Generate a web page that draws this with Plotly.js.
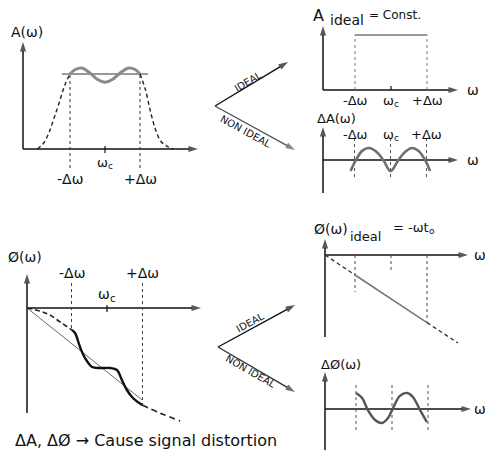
<!DOCTYPE html>
<html><head><meta charset="utf-8">
<script src="https://cdn.plot.ly/plotly-3.0.1.min.js"></script>
<style>html,body{margin:0;padding:0;background:#fff}</style>
</head><body><div id="chart" style="width:485px;height:457px"></div>
<script>
// ---------------- data (ω measured from ωc in units of Δω) ----------------
const tickPos = [-1, 0, 1];
const tickLabels = ['-Δω', 'ω', '+Δω'];
const tickSubs = ['', 'c', ''];

// A(ω) non-ideal amplitude: ripple in the band and skirts outside
const ampRippleX = [-1.0, -0.85, -0.66, -0.45, -0.22, 0, 0.22, 0.45, 0.68, 0.86, 1.0];
const ampRippleY = [1.0, 1.06, 1.08, 1.02, 0.93, 0.89, 0.93, 1.02, 1.08, 1.06, 1.0];
const ampSkirtLX = [-1.93, -1.75, -1.6, -1.45, -1.3, -1.15, -1.0];
const ampSkirtLY = [0, 0.08, 0.22, 0.42, 0.63, 0.85, 1.0];
const ampSkirtRX = [1.0, 1.15, 1.3, 1.45, 1.6, 1.8, 1.95];
const ampSkirtRY = [1.0, 0.8, 0.5, 0.25, 0.1, 0.03, 0];
const ampFlatX = [-1.23, 1.23];
const ampFlatY = [1, 1];

// A_ideal = const.
const ampIdealX = [-1, 1];
const ampIdealY = [1, 1];

// ΔA(ω)
const dAmpX = [-1.11, -0.94, -0.78, -0.6, -0.4, -0.2, 0, 0.22, 0.42, 0.6, 0.78, 0.94, 1.1];
const dAmpY = [-0.85, 0.1, 0.72, 0.92, 0.65, 0, -0.85, 0, 0.65, 0.92, 0.7, 0.1, -0.85];

// φ(ω) non-ideal phase
const phaseWaveX = [-0.99, -0.9, -0.76, -0.62, -0.42, -0.2, 0.08, 0.28, 0.42, 0.56, 0.73, 0.99];
const phaseWaveY = [-0.55, -0.625, -0.975, -1.25, -1.475, -1.5, -1.5, -1.55, -1.8, -2.05, -2.25, -2.425];
const phaseLeftX = [-2.25, -1.89, -1.61, -1.32, -0.99];
const phaseLeftY = [0, -0.075, -0.175, -0.35, -0.55];
const phaseRightX = [0.99, 1.49, 2.06];
const phaseRightY = [-2.425, -2.625, -2.825];
const phaseLinX = [-2.25, 0.99];
const phaseLinY = [0, -2.3];

// φ(ω)_ideal = -ω t0
const phiIdealX = [-1.83, -1, 1, 1.86];
const phiIdealY = [0, -0.5, -1.69, -2.2];

// Δφ(ω)
const dPhiX = [-1.0, -0.83, -0.67, -0.47, -0.28, -0.11, 0.03, 0.22, 0.42, 0.58, 0.78, 0.97];
const dPhiY = [1.07, 0.73, -0.07, -0.73, -0.93, -0.6, 0.07, 0.87, 1.07, 0.8, -0.07, -0.87];

// ---------------- layout helpers (pixel geometry) ----------------
const W = 485, H = 457;
const FONT = 'DejaVu Sans, Liberation Sans, sans-serif';
const P = {
  A: {id: '',  ox: 105,   sx: 35,   oy: 149, sy: 75, L: 5,   R: 205, T: 22,  B: 192},
  B: {id: '2', ox: 391,   sx: 36,   oy: 90,  sy: 55, L: 300, R: 485, T: 2,   B: 107},
  C: {id: '3', ox: 390.5, sx: 36,   oy: 160, sy: 13, L: 300, R: 485, T: 108, B: 200},
  D: {id: '4', ox: 107,   sx: 35.5, oy: 308, sy: 40, L: 0,   R: 210, T: 245, B: 428},
  E: {id: '5', ox: 391,   sx: 36,   oy: 255, sy: 40, L: 300, R: 485, T: 212, B: 352},
  F: {id: '6', ox: 392,   sx: 36,   oy: 409, sy: 15, L: 300, R: 485, T: 354, B: 457},
  G: {id: '7', ox: 0,     sx: 1,    oy: 0,   sy: -1, L: 0,   R: 485, T: 0,   B: 457}  // full-page overlay for branch arrows
};
const dx = (p, px) => (px - p.ox) / p.sx;
const dy = (p, py) => (p.oy - py) / p.sy;

const layout = {
  width: W, height: H, margin: {l: 0, r: 0, t: 0, b: 0},
  paper_bgcolor: '#fff', plot_bgcolor: 'rgba(0,0,0,0)', showlegend: false,
  font: {family: FONT, color: '#111'},
  annotations: []
};
Object.values(P).forEach(p => {
  layout['xaxis' + p.id] = {domain: [p.L / W, p.R / W], range: [dx(p, p.L), dx(p, p.R)],
    visible: false, fixedrange: true, anchor: 'y' + p.id};
  layout['yaxis' + p.id] = {domain: [1 - p.B / H, 1 - p.T / H], range: [dy(p, p.B), dy(p, p.T)],
    visible: false, fixedrange: true, anchor: 'x' + p.id};
});

const traces = [];
function line(p, xs, ys, color, width, dash, shape) {
  traces.push({type: 'scatter', mode: 'lines', x: xs, y: ys,
    xaxis: 'x' + p.id, yaxis: 'y' + p.id, hoverinfo: 'skip', cliponaxis: false,
    line: {color: color, width: width, dash: dash || 'solid', shape: shape || 'spline', smoothing: 1}});
}
function arrow(p, x0, y0, x1, y1, color, width) {
  traces.push({type: 'scatter', mode: 'lines+markers', x: [x0, x1], y: [y0, y1],
    xaxis: 'x' + p.id, yaxis: 'y' + p.id, hoverinfo: 'skip', cliponaxis: false,
    line: {color: color || '#111', width: width || 1.5},
    marker: {symbol: 'arrow', angleref: 'previous', size: [0, 10], color: color || '#111',
      line: {width: 0}}});
}
function axes(p, x0px, x1px, yTopPx, yBotPx) {
  arrow(p, dx(p, x0px), 0, dx(p, x1px), 0);
  arrow(p, dx(p, x0px), dy(p, yBotPx), dx(p, x0px), dy(p, yTopPx));
}
function text(p, x, y, t, size, extra) {
  layout.annotations.push(Object.assign({xref: 'x' + p.id, yref: 'y' + p.id, x: x, y: y, text: t,
    xanchor: 'center', yanchor: 'middle', borderpad: 0, borderwidth: 0,
    showarrow: false, font: {size: size, family: FONT, color: '#111'}}, extra || {}));
}
// base text with a separate lowered subscript (drawn as its own annotation)
function subText(p, x, y, base, sub, size, split) {
  text(p, x, y, base, size, {xanchor: 'right', xshift: split});
  text(p, x, y, sub, Math.round(size * 0.7), {xanchor: 'left', xshift: split, yshift: -4});
}
function vguides(p, which, y0px, y1px, color) {
  which.forEach((i, k) => {
    const t = tickPos[i];
    const a = Array.isArray(y0px) ? y0px[k] : y0px, b = Array.isArray(y1px) ? y1px[k] : y1px;
    line(p, [t, t], [dy(p, a), dy(p, b)], color || '#555', 1, '3px,3px', 'linear');
  });
}
function tickLbls(p, which, ypx, size) {
  which.forEach(i => {
    if (tickSubs[i]) subText(p, tickPos[i], dy(p, ypx), tickLabels[i], tickSubs[i], size, 3);
    else text(p, tickPos[i], dy(p, ypx), tickLabels[i], size);
  });
}

// ---------------- Panel A : A(ω) ----------------
const A = P.A;
axes(A, 23, 198, 42, 149);
line(A, ampFlatX, ampFlatY, '#777', 1.5, 'solid', 'linear');
line(A, ampRippleX, ampRippleY, '#8a8a8a', 3);
line(A, ampSkirtLX, ampSkirtLY, '#222', 1.4, '4px,3px');
line(A, ampSkirtRX, ampSkirtRY, '#222', 1.4, '4px,3px');
vguides(A, [0, 2], 75, 168, '#333');
line(A, [0, 0], [dy(A, 146), dy(A, 153)], '#111', 1.2, 'solid', 'linear');
text(A, dx(A, 27), dy(A, 32), 'A(ω)', 14);
tickLbls(A, [0, 2], 179, 14);
tickLbls(A, [1], 162, 13);

// ---------------- Panel B : A_ideal ----------------
const Bp = P.B;
axes(Bp, 323, 458, 26, 90);
line(Bp, ampIdealX, ampIdealY, '#777', 1.5, 'solid', 'linear');
vguides(Bp, [0, 2], 90, 35, '#777');
line(Bp, [0, 0], [dy(Bp, 86), dy(Bp, 90)], '#111', 1.2, 'solid', 'linear');
tickLbls(Bp, [0, 1, 2], 100, 13);
text(Bp, dx(Bp, 473), 0, 'ω', 14);
text(Bp, dx(Bp, 318), dy(Bp, 15), 'A', 16);
text(Bp, dx(Bp, 347), dy(Bp, 20), 'ideal', 14);
text(Bp, dx(Bp, 395), dy(Bp, 15), '= Const.', 12);

// ---------------- Panel C : ΔA(ω) ----------------
const C = P.C;
axes(C, 323, 458, 127, 193);
vguides(C, [0, 1, 2], 138, 180, '#555');
line(C, dAmpX, dAmpY, '#6e6e6e', 2.6);
tickLbls(C, [0, 1, 2], 134, 13);
text(C, dx(C, 336), dy(C, 118), 'ΔA(ω)', 13);
text(C, dx(C, 473), 0, 'ω', 14);

// ---------------- Panel D : φ(ω) ----------------
const D = P.D;
axes(D, 27, 201, 274, 413);
vguides(D, [0, 2], [283, 283], [330, 405], '#444');
line(D, [0, 0], [dy(D, 305), dy(D, 312)], '#111', 1.2, 'solid', 'linear');
line(D, phaseLinX, phaseLinY, '#444', 0.8, 'solid', 'linear');
line(D, phaseLeftX, phaseLeftY, '#222', 1.6, '5px,3px');
line(D, phaseRightX, phaseRightY, '#222', 1.6, '6px,4px');
line(D, phaseWaveX, phaseWaveY, '#111', 2.4);
text(D, dx(D, 25), dy(D, 257), 'Ø(ω)', 14);
tickLbls(D, [0, 2], 273, 14);
tickLbls(D, [1], 294, 14);

// ---------------- Panel E : φ_ideal ----------------
const E = P.E;
axes(E, 325, 468, 239, 337);
vguides(E, [0, 1, 2], [255, 255, 255], [292, 273, 323], '#444');
line(E, phiIdealX.slice(0, 2), phiIdealY.slice(0, 2), '#333', 1.3, '4px,3px', 'linear');
line(E, phiIdealX.slice(1, 3), phiIdealY.slice(1, 3), '#777', 1.6, 'solid', 'linear');
line(E, phiIdealX.slice(2, 4), phiIdealY.slice(2, 4), '#333', 1.3, '4px,3px', 'linear');
text(E, dx(E, 480), 0, 'ω', 14);
text(E, dx(E, 331), dy(E, 229), 'Ø(ω)', 14);
text(E, dx(E, 365), dy(E, 236), 'ideal', 13);
subText(E, dx(E, 429), dy(E, 227), '= -ωt', 'o', 13, 0);

// ---------------- Panel F : Δφ(ω) ----------------
const F = P.F;
axes(F, 325, 471, 372, 450);
vguides(F, [0, 1, 2], 385, 430, '#555');
line(F, dPhiX, dPhiY, '#555', 2.4);
text(F, dx(F, 341), dy(F, 364), 'ΔØ(ω)', 13);
text(F, dx(F, 480), 0, 'ω', 14);

// ---------------- IDEAL / NON IDEAL branch arrows (page overlay) ----------------
const G = P.G;
arrow(G, 215, 106, 288, 62, '#111', 1.4);
arrow(G, 215, 106, 295, 150, '#555', 1.4);
text(G, 248, 81, 'IDEAL', 10, {textangle: -31});
text(G, 246, 131, 'NON IDEAL', 10, {textangle: 29});
arrow(G, 218, 347, 295, 305, '#111', 1.4);
arrow(G, 218, 347, 295, 392, '#333', 1.4);
text(G, 250, 322, 'IDEAL', 10, {textangle: -29});
text(G, 251, 371, 'NON IDEAL', 10, {textangle: 30});

// caption
text(G, 15, 440, 'ΔA, ΔØ → Cause signal distortion', 16, {xanchor: 'left'});

Plotly.newPlot('chart', traces, layout, {staticPlot: true, displayModeBar: false});
</script></body></html>
